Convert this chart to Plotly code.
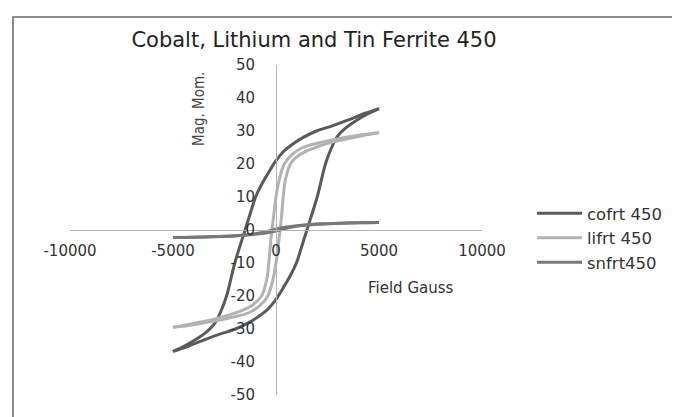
import plotly.graph_objects as go

# ---- data (Field Gauss, Mag. Mom.) ----
# cofrt 450 : lower branch (field increasing) and upper branch (field decreasing)
cofrt_lo_x = [-5000, -4300, -3450, -2700, -1965, -1300, -800, -400, 0, 400, 700, 990, 1250, 1500, 2000, 2400, 2700, 3000, 3400, 3900, 4400, 5000]
cofrt_lo_y = [-36.8, -35.3, -33.2, -31.5, -30.0, -28.0, -26.0, -24.0, -21.0, -17.0, -13.8, -10.0, -5.0, 0.0, 10.0, 20.0, 25.0, 28.5, 31.0, 33.2, 35.0, 36.8]
cofrt_up_x = [5000, 4300, 3450, 2700, 1965, 1300, 800, 400, 0, -400, -700, -990, -1250, -1500, -2000, -2400, -2700, -3000, -3400, -3900, -4400, -5000]
cofrt_up_y = [36.8, 35.3, 33.2, 31.5, 30.0, 28.0, 26.0, 24.0, 21.0, 17.0, 13.8, 10.0, 5.0, 0.0, -10.0, -20.0, -25.0, -28.5, -31.0, -33.2, -35.0, -36.8]

# lifrt 450
lifrt_lo_x = [-5000, -4000, -3000, -2000, -1300, -800, -400, -150, 0, 100, 200, 280, 350, 450, 700, 1200, 2000, 3000, 4000, 5000]
lifrt_lo_y = [-29.5, -28.7, -27.6, -26.3, -25.0, -23.0, -20.0, -15.0, -10.0, -5.0, 0.0, 5.0, 10.0, 15.0, 20.0, 23.0, 25.2, 27.0, 28.3, 29.5]
lifrt_up_x = [5000, 4000, 3000, 2000, 1300, 800, 400, 150, 0, -100, -200, -280, -350, -450, -700, -1200, -2000, -3000, -4000, -5000]
lifrt_up_y = [29.5, 28.7, 27.6, 26.3, 25.0, 23.0, 20.0, 15.0, 10.0, 5.0, 0.0, -5.0, -10.0, -15.0, -20.0, -23.0, -25.2, -27.0, -28.3, -29.5]

# snfrt450
snfrt_lo_x = [-5000, -4000, -3000, -2000, -1500, -1000, -500, 0, 300, 600, 1000, 1500, 2000, 3000, 4000, 5000]
snfrt_lo_y = [-2.3, -2.2, -2.05, -1.8, -1.6, -1.3, -0.9, -0.3, 0.2, 0.7, 1.1, 1.5, 1.75, 2.0, 2.2, 2.3]
snfrt_up_x = [5000, 4000, 3000, 2000, 1500, 1000, 500, 0, -300, -600, -1000, -1500, -2000, -3000, -4000, -5000]
snfrt_up_y = [2.3, 2.2, 2.05, 1.8, 1.6, 1.3, 0.9, 0.3, -0.2, -0.7, -1.1, -1.5, -1.75, -2.0, -2.2, -2.3]

series_names = ["cofrt 450", "lifrt 450", "snfrt450"]
series_colors = ["#5a5a5a", "#b2b2b2", "#787878"]

x_ticks = [-10000, -5000, 0, 5000, 10000]
y_ticks = [-50, -40, -30, -20, -10, 0, 10, 20, 30, 40, 50]

title_text = "Cobalt, Lithium and Tin Ferrite 450"
x_title = "Field Gauss"
y_title = "Mag. Mom."

FONT = "DejaVu Sans"

fig = go.Figure()
loops = [
    (cofrt_lo_x, cofrt_lo_y, cofrt_up_x, cofrt_up_y),
    (lifrt_lo_x, lifrt_lo_y, lifrt_up_x, lifrt_up_y),
    (snfrt_lo_x, snfrt_lo_y, snfrt_up_x, snfrt_up_y),
]
for (lx, ly, ux, uy), name, col in zip(loops, series_names, series_colors):
    fig.add_trace(go.Scatter(
        x=lx + [None] + ux, y=ly + [None] + uy,
        mode="lines", name=name,
        line=dict(color=col, width=3, shape="spline", smoothing=0.9),
        connectgaps=False,
    ))

W, H = 680, 417
L, R, T, B = 62, 206, 57, 30
pw, ph = W - L - R, H - T - B

def px2paper_x(px):
    return (px - L) / pw

def px2paper_y(py):
    return (H - B - py) / ph

fig.update_layout(
    width=W, height=H,
    margin=dict(l=L, r=R, t=T, b=B),
    paper_bgcolor="white", plot_bgcolor="white",
    font=dict(family=FONT, size=15, color="#333333"),
    title=dict(text=title_text, x=306 / W, xanchor="center", y=1 - 32 / H, yanchor="middle",
               font=dict(family=FONT, size=21, color="#222222")),
    showlegend=True,
    legend=dict(x=px2paper_x(524), xanchor="left", y=px2paper_y(188), yanchor="top",
                font=dict(family=FONT, size=16.5, color="#333333"),
                itemwidth=45,
                bgcolor="rgba(0,0,0,0)", tracegroupgap=0),
    xaxis=dict(range=[-10000, 10000], tickvals=x_ticks, ticktext=[str(v) for v in x_ticks],
               showgrid=False, zeroline=False, showline=True, linecolor="#b4b4b4", linewidth=1,
               anchor="free", position=0.5, ticks="", ticklabelstandoff=7,
               tickfont=dict(family=FONT, size=15, color="#333333")),
    yaxis=dict(range=[-50, 50], tickvals=y_ticks, ticktext=[str(v) for v in y_ticks],
               showgrid=False, zeroline=False, showline=True, linecolor="#b4b4b4", linewidth=1,
               anchor="free", position=0.5, ticks="", ticklabelstandoff=18,
               tickfont=dict(family=FONT, size=15, color="#333333")),
    annotations=[
        dict(text=y_title, x=px2paper_x(191), y=px2paper_y(101), xref="paper", yref="paper",
             showarrow=False, textangle=-90, xanchor="center", yanchor="middle",
             font=dict(family="Liberation Sans Narrow, DejaVu Sans Condensed, Liberation Sans", size=15, color="#444444")),
        dict(text=x_title, x=px2paper_x(403), y=px2paper_y(280), xref="paper", yref="paper",
             showarrow=False, xanchor="center", yanchor="middle",
             font=dict(family=FONT, size=15, color="#333333")),
    ],
    shapes=[
        dict(type="rect", xref="paper", yref="paper",
             x0=px2paper_x(5), x1=px2paper_x(720), y0=px2paper_y(450), y1=px2paper_y(9),
             line=dict(color="#8c8c8c", width=2), fillcolor="rgba(0,0,0,0)", layer="below"),
    ],
)

fig.write_html("out.html")
